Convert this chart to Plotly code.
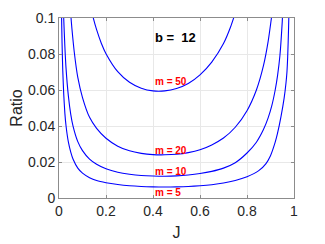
import plotly.graph_objects as go

J50 = [0.13, 0.145, 0.16, 0.18, 0.2, 0.25, 0.3, 0.35, 0.4, 0.45, 0.5, 0.55, 0.6, 0.65, 0.7, 0.73, 0.76]
R50 = [0.1095, 0.1005, 0.0935, 0.086, 0.0802, 0.0702, 0.0643, 0.061, 0.0595, 0.0595, 0.0608, 0.0636, 0.0684, 0.0755, 0.0858, 0.095, 0.1068]

J20 = [0.045, 0.05, 0.055, 0.065, 0.08, 0.1, 0.13, 0.16, 0.2, 0.25, 0.3, 0.35, 0.4, 0.45, 0.5, 0.55, 0.6, 0.65, 0.7, 0.75, 0.8, 0.84, 0.87, 0.89, 0.91]
R20 = [0.112, 0.102, 0.094, 0.081, 0.067, 0.0558, 0.0448, 0.0387, 0.0332, 0.0288, 0.0262, 0.0248, 0.0241, 0.024, 0.0243, 0.0252, 0.0268, 0.0295, 0.0333, 0.0393, 0.0485, 0.06, 0.0735, 0.087, 0.106]

J10 = [0.017, 0.02, 0.025, 0.03, 0.04, 0.05, 0.06, 0.08, 0.1, 0.13, 0.16, 0.2, 0.25, 0.3, 0.35, 0.4, 0.45, 0.5, 0.55, 0.6, 0.65, 0.7, 0.75, 0.8, 0.84, 0.87, 0.89, 0.905, 0.92, 0.93, 0.94, 0.95, 0.955]
R10 = [0.114, 0.1, 0.084, 0.072, 0.0565, 0.0465, 0.0398, 0.0313, 0.0263, 0.0216, 0.0187, 0.0162, 0.0143, 0.0132, 0.0125, 0.0122, 0.0121, 0.0123, 0.0128, 0.0136, 0.0148, 0.0166, 0.0196, 0.025, 0.031, 0.038, 0.0445, 0.051, 0.06, 0.068, 0.079, 0.098, 0.112]

J5 = [0.009, 0.011, 0.013, 0.016, 0.02, 0.025, 0.03, 0.04, 0.05, 0.06, 0.08, 0.1, 0.13, 0.16, 0.2, 0.25, 0.3, 0.35, 0.4, 0.45, 0.5, 0.55, 0.6, 0.65, 0.7, 0.75, 0.8, 0.85, 0.88, 0.9, 0.92, 0.93, 0.945, 0.958, 0.966, 0.97, 0.973, 0.977, 0.98]
R5 = [0.117, 0.1, 0.086, 0.071, 0.058, 0.047, 0.04, 0.031, 0.0255, 0.0215, 0.0166, 0.0138, 0.0113, 0.0097, 0.0085, 0.0075, 0.0068, 0.0064, 0.0062, 0.0061, 0.0062, 0.0064, 0.0068, 0.0074, 0.0083, 0.0097, 0.0118, 0.0152, 0.019, 0.0235, 0.031, 0.036, 0.0455, 0.0555, 0.064, 0.07, 0.078, 0.095, 0.113]

labels = ["m = 50", "m = 20", "m = 10", "m = 5"]
label_x = [0.4, 0.4, 0.4, 0.4]
label_y = [0.065, 0.0262, 0.0147, 0.003]

xticks = [0, 0.2, 0.4, 0.6, 0.8, 1]
xtick_text = ["0", "0.2", "0.4", "0.6", "0.8", "1"]
yticks = [0, 0.02, 0.04, 0.06, 0.08, 0.1]
ytick_text = ["0", "0.02", "0.04", "0.06", "0.08", "0.1"]

FONT = "Liberation Sans, Arial, sans-serif"

fig = go.Figure()
for xs, ys in [(J50, R50), (J20, R20), (J10, R10), (J5, R5)]:
    fig.add_trace(go.Scatter(x=xs, y=ys, mode="lines",
                             line=dict(color="#0000ff", width=1.1, shape="spline", smoothing=0.6),
                             showlegend=False, hoverinfo="skip"))

for t, x, y in zip(labels, label_x, label_y):
    fig.add_annotation(x=x, y=y, text="<b>" + t + "</b>", showarrow=False,
                       xanchor="left", yanchor="middle",
                       font=dict(family=FONT, size=10, color="#ff0000"))

fig.add_annotation(x=0.402, y=0.0892, text="<b>b = &nbsp;12</b>", showarrow=False,
                   xanchor="left", yanchor="middle",
                   font=dict(family=FONT, size=13, color="#000000"))

axis_common = dict(showline=True, linecolor="#8c8c8c", linewidth=1, mirror="ticks",
                   ticks="inside", ticklen=3, tickcolor="#8c8c8c",
                   showgrid=True, gridcolor="#e8e8e8", gridwidth=1, zeroline=False,
                   automargin=False,
                   tickfont=dict(family=FONT, size=14, color="#262626"))

fig.update_xaxes(range=[0, 1], tickvals=xticks, ticktext=xtick_text,
                 title=dict(text="J", font=dict(family=FONT, size=16, color="#262626"), standoff=9),
                 **axis_common)
fig.update_yaxes(range=[0, 0.1], tickvals=yticks, ticktext=ytick_text,
                 title=dict(text="Ratio", font=dict(family=FONT, size=16, color="#262626"), standoff=7),
                 **axis_common)

fig.update_layout(width=317, height=236, margin=dict(l=51, r=31, t=10, b=46),
                  plot_bgcolor="white", paper_bgcolor="white")

fig.write_html("out.html")
